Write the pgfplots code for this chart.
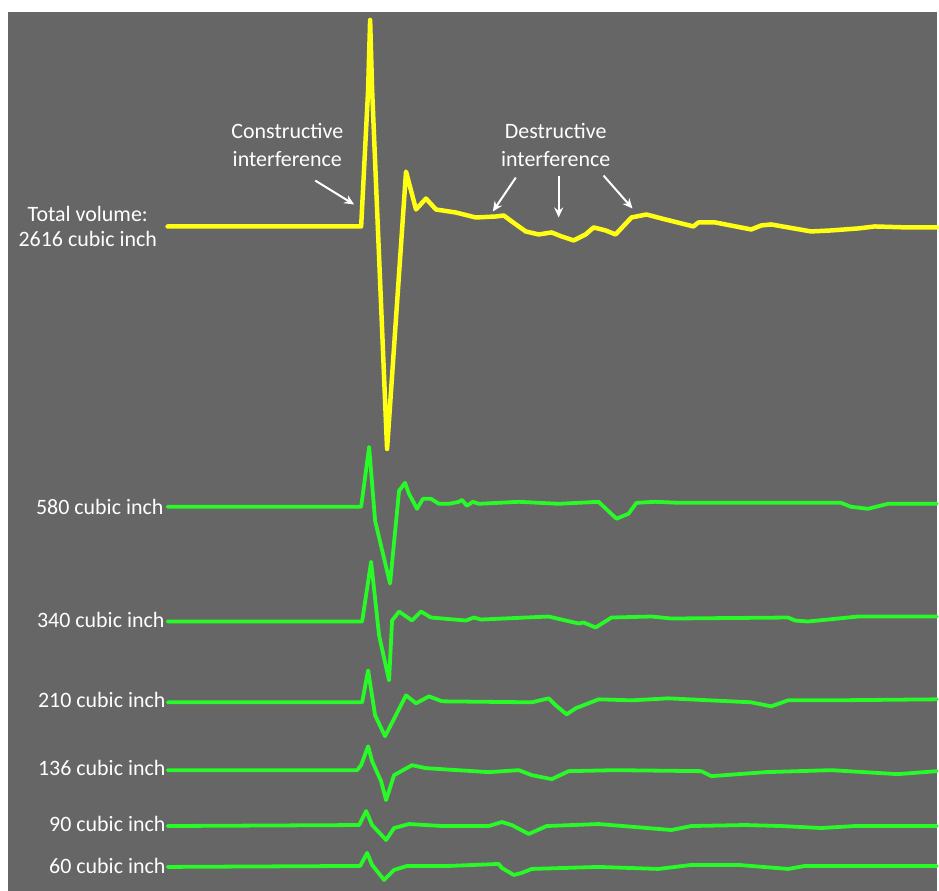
\documentclass[border=0pt]{standalone}
\usepackage{pgfplots}
\pgfplotsset{compat=1.18}
\usetikzlibrary{arrows.meta}
\usepackage{fontspec}
\setmainfont{Carlito}
\definecolor{bg}{RGB}{102,102,102}
\definecolor{yel}{RGB}{255,255,20}
\definecolor{grn}{RGB}{40,250,40}
\begin{document}
\begin{tikzpicture}
\begin{axis}[hide axis, scale only axis, width=939bp, height=893bp,
  xmin=0, xmax=939, ymin=0, ymax=893, y dir=reverse, clip=false,
  every axis plot/.append style={line join=round, line cap=round}]
\fill[white] (axis cs:0,0) rectangle (axis cs:939,893);
\fill[bg] (axis cs:8,12) rectangle (axis cs:939,893);
% Total
\addplot[yel, line width=4.5bp, sharp plot] coordinates {
(168,227)(362,227)(369,90)(371,20)(373,90)(388,450)(407,172)(417,210)(427,199)(437,210)(457,213)(477,218)(497,217)(505,216)(513,222)(527,232)(540,235)(553,233)(563,237)(575,241)(587,235)(595,228)(607,231)(617,235)(633,218)(648,215)(667,220)(695,227)(700,223)(717,223)(753,230)(763,226)(773,225)(813,232)(833,231)(860,229)(877,227)(910,228)(939,228)};
% 580
\addplot[grn, line width=3.8bp, sharp plot] coordinates {
(168,508)(362,508)(370,448)(376,522)(391,585)(400,492)(406,484)(410,495)(418,510)(424,500)(432,500)(440,505)(450,505)(460,503)(463,501)(468,507)(474,503)(480,505)(520,503)(560,505)(600,503)(618,520)(630,515)(638,504)(657,503)(680,504)(843,504)(853,508)(870,510)(890,505)(939,505)};
% 340
\addplot[grn, line width=3.8bp, sharp plot] coordinates {
(168,623)(363,623)(372,563)(380,637)(390,682)(393,622)(400,613)(413,622)(422,613)(432,619)(467,622)(475,619)(482,621)(550,618)(580,625)(585,624)(597,629)(613,619)(653,618)(673,620)(790,619)(797,622)(810,623)(860,618)(939,618)};
% 210
\addplot[grn, line width=3.8bp, sharp plot] coordinates {
(168,704)(363,704)(369,672)(376,717)(386,738)(407,697)(417,705)(430,698)(443,703)(533,704)(550,700)(557,707)(568,716)(577,710)(600,701)(633,702)(670,700)(753,704)(773,708)(790,702)(833,702)(939,701)};
% 136
\addplot[grn, line width=3.8bp, sharp plot] coordinates {
(168,772)(358,772)(362,767)(369,748)(373,763)(382,783)(387,802)(395,777)(413,767)(427,770)(490,774)(520,772)(533,777)(553,781)(570,773)(617,772)(703,773)(713,778)(767,774)(833,772)(900,776)(939,773)};
% 90
\addplot[grn, line width=3.8bp, sharp plot] coordinates {
(168,828)(360,827)(367,813)(373,827)(387,842)(395,830)(410,826)(443,828)(490,828)(503,824)(513,827)(530,836)(548,828)(600,826)(673,832)(693,828)(747,827)(783,828)(823,830)(857,828)(939,828)};
% 60
\addplot[grn, line width=3.8bp, sharp plot] coordinates {
(168,869)(361,868)(368,855)(373,867)(385,882)(395,872)(408,868)(450,868)(500,866)(503,870)(515,877)(523,875)(533,871)(600,869)(660,871)(693,867)(740,867)(790,871)(807,868)(939,868)};
% labels
\begin{scope}[every node/.style={text=white, font=\fontsize{22bp}{26bp}\selectfont, inner sep=0pt}]
\node[align=center] at (axis cs:88,227) {Total volume:\\2616 cubic inch};
\node[anchor=east] at (axis cs:164,508) {580 cubic inch};
\node[anchor=east] at (axis cs:165,621) {340 cubic inch};
\node[anchor=east] at (axis cs:166,702) {210 cubic inch};
\node[anchor=east] at (axis cs:166,770) {136 cubic inch};
\node[anchor=east] at (axis cs:166,826) {90 cubic inch};
\node[anchor=east] at (axis cs:166,868) {60 cubic inch};
\node at (axis cs:288,131) {Constructive};
\node at (axis cs:288,159) {interference};
\node at (axis cs:557,131) {Destructive};
\node at (axis cs:557,159) {interference};
\end{scope}
\begin{scope}[white, line width=2bp, -{Stealth[length=10bp,width=9bp]}]
\draw (axis cs:316,181) -- (axis cs:355,205);
\draw (axis cs:517,178) -- (axis cs:494,212);
\draw (axis cs:560,176) -- (axis cs:560,218);
\draw (axis cs:605,176) -- (axis cs:634,209);
\end{scope}
\end{axis}
\end{tikzpicture}
\end{document}
